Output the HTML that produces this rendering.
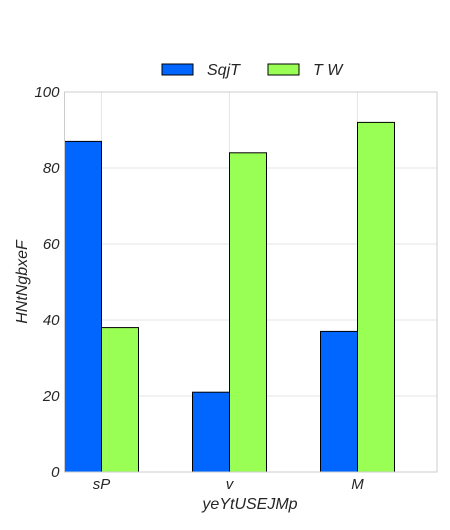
<!DOCTYPE html>
<html><head><meta charset="utf-8"><style>
body{margin:0;background:#fff;font-family:"Liberation Sans",sans-serif;}
svg text{font-family:"Liberation Sans",sans-serif;font-style:italic;fill:#262626;}
</style></head><body>
<svg id="chart" width="450" height="525" xmlns="http://www.w3.org/2000/svg"></svg>
<script>
const categories=["sP","v","M"];
const seriesNames=["SqjT","T W"];
const seriesA=[87,21,37];
const seriesB=[38,84,92];
const yTicks=[0,20,40,60,80,100];
const colors=["#0066ff","#99ff55"];
const L=64.5,R=437,T=92,B=472;
const xs=v=>101.5+v*128;
const ys=v=>B-(v/100)*(B-T);
const bw=37;
const svg=document.getElementById('chart');
const NS="http://www.w3.org/2000/svg";
function mk(tag,attrs,parent){const e=document.createElementNS(NS,tag);for(const k in attrs)e.setAttribute(k,attrs[k]);(parent||svg).appendChild(e);return e;}
const grid=mk('g',{});


yTicks.forEach(t=>{const l=mk('line',{x1:L,x2:R,y1:ys(t),y2:ys(t),stroke:'#e5e5e5','stroke-width':1},grid);

});
categories.forEach((c,i)=>{const l=mk('line',{x1:xs(i),x2:xs(i),y1:T,y2:B,stroke:'#e5e5e5','stroke-width':1},grid);

});
[seriesA,seriesB].forEach((s,si)=>{s.forEach((v,i)=>{
const x=si===0?xs(i)-bw:xs(i);
const r=mk('rect',{x:x,y:ys(v),width:bw,height:ys(0)-ys(v),fill:colors[si],stroke:'#000','stroke-width':1});


});});
const frame=mk('rect',{x:L,y:T,width:R-L,height:B-T,fill:'none',stroke:'#cccccc','stroke-width':1});


yTicks.forEach(t=>{const e=mk('text',{x:L-5,y:ys(t)+5,'text-anchor':'end','font-size':15});e.textContent=t;

});
categories.forEach((c,i)=>{const e=mk('text',{x:xs(i),y:B+17,'text-anchor':'middle','font-size':15});e.textContent=c;

});
const xt=mk('text',{x:250,y:509,'text-anchor':'middle','font-size':16});xt.textContent="yeYtUSEJMp";


const yt=mk('text',{x:27,y:282,'text-anchor':'middle','font-size':16,transform:'rotate(-90 27 282)'});yt.textContent="HNtNgbxeF";


const legX=[162,268];
seriesNames.forEach((n,i)=>{const g=mk('g',{});


mk('rect',{x:legX[i],y:64,width:31,height:11,fill:colors[i],stroke:'#000','stroke-width':1},g);
const t=mk('text',{x:legX[i]+45,y:75,'font-size':16},g);t.textContent=n;});
</script>
</body></html>
